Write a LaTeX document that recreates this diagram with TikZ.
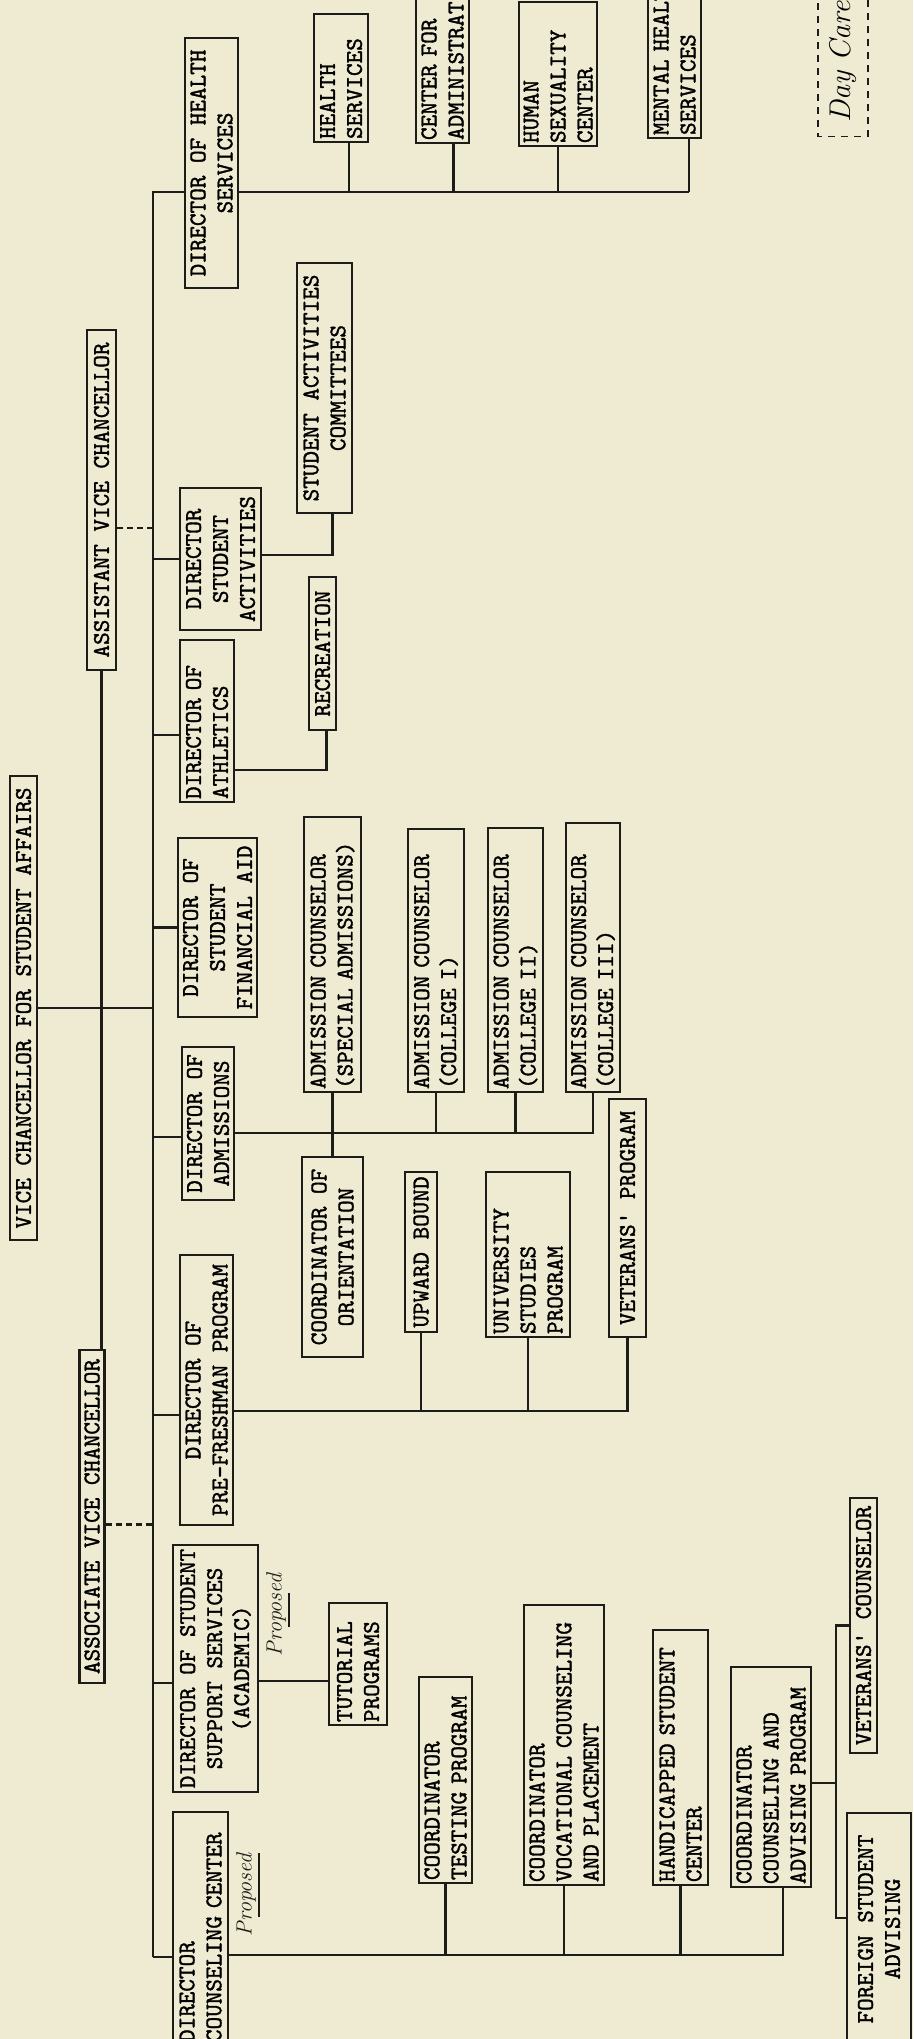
\documentclass[tikz,border=0pt]{standalone}
\usepackage{fontspec}
\newfontfamily\typ[Extension=.otf,FakeBold=1.4]{lmmono10-regular}
\newcommand\typeface{\typ\fontsize{24}{27}\selectfont\spaceskip=12.6pt\relax}
\usepackage{tikz}
\usetikzlibrary{calc}
\usepackage{xcolor}
\definecolor{paper}{RGB}{239,235,210}
\definecolor{ink}{RGB}{28,28,24}

\begin{document}
\begin{tikzpicture}[x=1pt,y=-1pt,
  post/.style={draw=ink,fill=paper,line width=2.3pt,rotate=90,
    font=\typeface,inner xsep=3pt,inner ysep=0pt},
  wire/.style={ink,line width=2.3pt},
  link/.style={ink,line width=2.3pt,dash pattern=on 6pt off 4pt},
  hand/.style={ink,rotate=90,inner sep=0pt,font=\itshape\fontsize{22}{24}\selectfont}]
  \fill[paper] (0,0) rectangle (913,2039);
  \useasboundingbox (0,0) rectangle (913,2039);
  \coordinate (st) at (153,192);
  \coordinate (sb) at (153,1957);
  % top of the chart
  \node[post,minimum width=464,minimum height=27] (vc) at (23.5,1008)
    {VICE CHANCELLOR FOR STUDENT AFFAIRS};
  \node[post,minimum width=340,minimum height=29] (asst) at (101.5,500)
    {ASSISTANT VICE CHANCELLOR};
  \node[post,minimum width=333,minimum height=25] (assoc) at (92,1516.5)
    {ASSOCIATE VICE CHANCELLOR};
  \draw[wire] (asst.west) -- (asst.west |- assoc.east);
  \draw[wire] (vc.south) -- (vc.south -| st);
  \draw[link] ([yshift=-28pt]asst.south) coordinate (asl) -- (asl -| st);
  \draw[link] ([yshift=-8pt]assoc.south) coordinate (aol) -- (aol -| st);
  % health
  \node[post,text width=122,minimum height=54,align=left] (hsv) at (341,78)
    {HEALTH\\SERVICES};
  \node[post,text width=197,minimum height=53,align=left] (cfa) at (442.5,41.5)
    {CENTER FOR\\ADMINISTRATION};
  \node[post,text width=138,minimum height=78,align=left] (hsc) at (558,74)
    {HUMAN\\SEXUALITY\\CENTER};
  \node[post,text width=192,minimum height=53,align=left] (mhs) at (674.5,39)
    {MENTAL HEALTH\\SERVICES};
  \node[draw=ink,line width=1.8pt,dash pattern=on 7pt off 6pt,rotate=90,
    text width=170,minimum height=50,inner xsep=14pt,align=left,
    font=\itshape\fontsize{30}{32}\selectfont] (dcare) at (843,37.5) {Day Care};
  \draw[wire] (sb) -- (st) -- ([xshift=14.5pt]mhs.west |- st);
  \node[post,minimum width=250,minimum height=53,align=center] (dhs) at (211.5,163)
    {DIRECTOR OF HEALTH\\SERVICES};
  \foreach \n/\s in {hsv/8,cfa/11,hsc/0,mhs/14.5}
    \draw[wire] ([xshift=\s pt]\n.west) -- ([xshift=\s pt]\n.west |- st);
  % activities and athletics
  \node[post,minimum width=142,minimum height=81,align=center] (dsa) at (220.5,559)
    {DIRECTOR\\STUDENT\\ACTIVITIES};
  \node[post,minimum width=250,minimum height=55,align=center] (sac) at (324.5,388)
    {STUDENT ACTIVITIES\\COMMITTEES};
  \draw[wire] (dsa.north -| st) -- (dsa.north);
  \draw[wire] ([yshift=4pt]dsa.south) coordinate (dsout) -| ([xshift=8pt]sac.west);
  \node[post,text width=156,minimum height=54,align=left] (dath) at (207,721)
    {DIRECTOR OF\\ATHLETICS};
  \node[post,minimum width=153,minimum height=27,align=center] (rec) at (322.5,653.5)
    {RECREATION};
  \coordinate (athin) at ([yshift=-14pt]dath.north);
  \coordinate (athout) at ([yshift=-49pt]dath.south);
  \draw[wire] (athin -| st) -- (athin);
  \draw[wire] (athout) -| ([xshift=4pt]rec.west);
  \node[post,minimum width=179,minimum height=79,align=center] (dfa) at (217.5,927.5)
    {DIRECTOR OF\\STUDENT\\FINANCIAL AID};
  \draw[wire] (dfa.north -| st) -- (dfa.north);
  % admissions
  \node[post,text width=269,minimum height=57,align=left] (spa) at (332.5,954.5)
    {ADMISSION COUNSELOR\\(SPECIAL ADMISSIONS)};
  \node[post,text width=257,minimum height=56,align=left] (ac1) at (436,960.5)
    {ADMISSION COUNSELOR\\(COLLEGE I)};
  \node[post,text width=258,minimum height=55,align=left] (ac2) at (515.5,960)
    {ADMISSION COUNSELOR\\(COLLEGE II)};
  \node[post,text width=263,minimum height=54,align=left] (ac3) at (593,957.5)
    {ADMISSION COUNSELOR\\(COLLEGE III)};
  \node[post,minimum width=153,minimum height=52,align=center] (dadm) at (208,1123.5)
    {DIRECTOR OF\\ADMISSIONS};
  \node[post,minimum width=200,minimum height=61,align=center] (cor) at (332.5,1257)
    {COORDINATOR OF\\ORIENTATION};
  \coordinate (admin) at ([yshift=-13.5pt]dadm.north);
  \coordinate (abus) at ([yshift=-9.5pt]dadm.south);
  \draw[wire] (admin -| st) -- (admin);
  \draw[wire] (abus) -| (ac3.west);
  \draw[wire] (spa.west) -- (cor.east);
  \foreach \n in {ac1,ac2}
    \draw[wire] (\n.west) -- (\n.west |- abus);
  % pre-freshman
  \node[post,minimum width=160,minimum height=32] (upb) at (421,1252) {UPWARD BOUND};
  \node[post,text width=159,minimum height=84,align=left] (usp) at (528,1254.5)
    {UNIVERSITY\\STUDIES\\PROGRAM};
  \node[post,minimum width=238,minimum height=37] (vtp) at (627.5,1218)
    {VETERANS' PROGRAM};
  \node[post,minimum width=270,minimum height=53,align=center] (dpf) at (206.5,1390)
    {DIRECTOR OF\\PRE-FRESHMAN PROGRAM};
  \coordinate (pfin) at ([yshift=-25pt]dpf.north);
  \coordinate (pbus) at ([yshift=-21pt]dpf.south);
  \draw[wire] (pfin -| st) -- (pfin);
  \draw[wire] (pbus) -| (vtp.west);
  \foreach \n in {upb,usp}
    \draw[wire] (\n.west) -- (\n.west |- pbus);
  % support services
  \node[post,minimum width=247,minimum height=85,align=center] (dss) at (215.5,1668.5)
    {DIRECTOR OF STUDENT\\SUPPORT SERVICES\\(ACADEMIC)};
  \node[post,text width=116,minimum height=58,align=left] (tut) at (358,1664)
    {TUTORIAL\\PROGRAMS};
  \coordinate (ssin) at ([yshift=-14.5pt]dss.north);
  \coordinate (ssout) at ([yshift=-12.5pt]dss.south);
  \draw[wire] (ssin -| st) -- (ssin);
  \draw[wire] (ssout) -- (ssout -| tut.north);
  \node[hand] (prop1) at (276,1615) {Proposed};
  \draw[ink,line width=1.4pt,shorten <=30pt,shorten >=20pt]
    ([xshift=3pt]prop1.south west) -- ([xshift=3pt]prop1.south east);
  % counseling
  \node[post,text width=227,minimum height=55,align=left] (dcc) at (200.5,1928.5)
    {DIRECTOR\\COUNSELING CENTER};
  \node[hand] (prop2) at (246,1895) {Proposed};
  \draw[ink,line width=1.4pt,shorten <=20pt]
    ([xshift=3pt]prop2.south west) -- ([xshift=3pt]prop2.south east);
  \draw[wire] (sb) -- (sb -| dcc.north);
  \node[post,text width=200,minimum height=53,align=left] (cts) at (445.5,1780)
    {COORDINATOR\\TESTING PROGRAM};
  \node[post,text width=274,minimum height=80,align=left] (voc) at (564,1745)
    {COORDINATOR\\VOCATIONAL COUNSELING\\AND PLACEMENT};
  \node[post,text width=249,minimum height=55,align=left] (hdc) at (680.5,1757.5)
    {HANDICAPPED STUDENT\\CENTER};
  \node[post,text width=214,minimum height=80,align=left] (cca) at (771,1777)
    {COORDINATOR\\COUNSELING AND\\ADVISING PROGRAM};
  \coordinate (ccbus) at ([yshift=-26.5pt]dcc.south);
  \draw[wire] (ccbus) -| ([xshift=12pt]cca.west);
  \foreach \n in {cts,voc,hdc}
    \draw[wire] (\n.west) -- (\n.west |- ccbus);
  \node[post,minimum width=255,minimum height=27] (vcn) at (863.5,1625.5)
    {VETERANS' COUNSELOR};
  \node[post,minimum width=232,minimum height=64,align=center] (fsa) at (879,1929)
    {FOREIGN STUDENT\\ADVISING};
  \coordinate (fk) at (836,1783);
  \coordinate (fsin) at ([yshift=11pt]fsa.north);
  \draw[wire] ([yshift=-6pt]cca.south) coordinate (caout) -- (fk);
  \draw[wire] (vcn.north) -| (fk) |- (fsin);
\end{tikzpicture}
\end{document}
